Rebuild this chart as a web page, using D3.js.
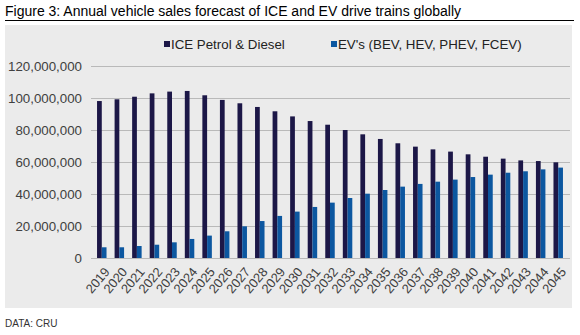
<!DOCTYPE html>
<html><head><meta charset="utf-8">
<script src="https://cdn.jsdelivr.net/npm/d3@7"></script>
<style>body{margin:0;background:#fff;}svg{display:block;font-family:"Liberation Sans",Arial,sans-serif;}</style>
</head><body>
<script>
const years = ["2019","2020","2021","2022","2023","2024","2025","2026","2027","2028","2029","2030","2031","2032","2033","2034","2035","2036","2037","2038","2039","2040","2041","2042","2043","2044","2045"];
const iceSales = [98.1,99.2,100.8,102.9,104.0,104.4,101.7,98.8,96.7,94.4,91.7,88.5,85.6,83.3,80.0,77.3,74.4,71.7,69.6,67.9,66.5,64.8,63.3,62.1,61.0,60.6,59.8].map(v=>v*1e6);
const evSales = [6.7,6.7,7.5,8.3,9.8,11.9,14.0,16.7,19.8,23.1,26.3,29.0,31.9,34.6,37.5,40.2,42.5,44.6,46.3,47.7,49.0,50.6,52.1,53.3,54.2,55.4,56.5].map(v=>v*1e6);
const yTicks = [0,20e6,40e6,60e6,80e6,100e6,120e6];
const seriesNames = ["ICE Petrol & Diesel","EV's (BEV, HEV, PHEV, FCEV)"];
const colors = ["#1c1747","#0c57a0"];

const W=580,H=335;
const svg=d3.select("body").append("svg").attr("width",W).attr("height",H);

svg.append("text").attr("x",5).attr("y",16).attr("font-size",14).attr("fill","#000")
  .text("Figure 3: Annual vehicle sales forecast of ICE and EV drive trains globally");
svg.append("line").attr("x1",5).attr("x2",574).attr("y1",20.5).attr("y2",20.5).attr("stroke","#000").attr("stroke-width",1);
svg.append("rect").attr("x",5).attr("y",25).attr("width",567).attr("height",283).attr("fill","#ebebeb");

const x=d3.scaleBand().domain(years).range([93,567]).paddingInner(0.46).paddingOuter(0.23);
const xs=d3.scaleBand().domain([0,1]).range([0,x.bandwidth()]);
const y=d3.scaleLinear().domain([0,120e6]).range([258,66]);

// gridlines
svg.append("g").selectAll("line").data(yTicks).join("line")
  .attr("x1",91).attr("x2",570).attr("y1",d=>Math.round(y(d))+0.5).attr("y2",d=>Math.round(y(d))+0.5)
  .attr("stroke","#b9b9b9").attr("stroke-width",1);

// y axis labels
const yAxis=d3.axisLeft(y).tickValues(yTicks).tickSize(0).tickPadding(0).tickFormat(d3.format(","));
const ga=svg.append("g").attr("transform","translate(82,0)").call(yAxis);
ga.select(".domain").remove();
ga.selectAll("text").attr("font-size",13.3).attr("fill","#404040").attr("font-family","Liberation Sans, Arial, sans-serif");

// bars
const g=svg.append("g");
[iceSales,evSales].forEach((vals,si)=>{
  g.append("g").selectAll("rect").data(vals).join("rect")
    .attr("x",(d,i)=>x(years[i])+xs(si)).attr("width",xs.bandwidth())
    .attr("y",d=>y(d)).attr("height",d=>y(0)-y(d)).attr("fill",colors[si]);
});

// x axis
const xAxis=d3.axisBottom(x).tickSize(0).tickPadding(0);
const gx=svg.append("g").attr("transform","translate(0,258)").call(xAxis);
gx.select(".domain").remove();
gx.selectAll("text").attr("font-size",13).attr("fill","#404040").attr("font-family","Liberation Sans, Arial, sans-serif")
  .attr("text-anchor","end").attr("dy",null).attr("y",null)
  .attr("transform","translate(6,12) rotate(-50)").attr("dominant-baseline","middle");

// legend
const legX=[164,331];
seriesNames.forEach((n,i)=>{
  svg.append("rect").attr("x",legX[i]).attr("y",41).attr("width",6).attr("height",6).attr("fill",colors[i]);
  svg.append("text").attr("x",legX[i]+7).attr("y",49).attr("font-size",13.3).attr("fill","#222").text(n);
});

svg.append("text").attr("x",5).attr("y",327).attr("font-size",10).attr("fill","#333").text("DATA: CRU");
</script>
</body></html>
